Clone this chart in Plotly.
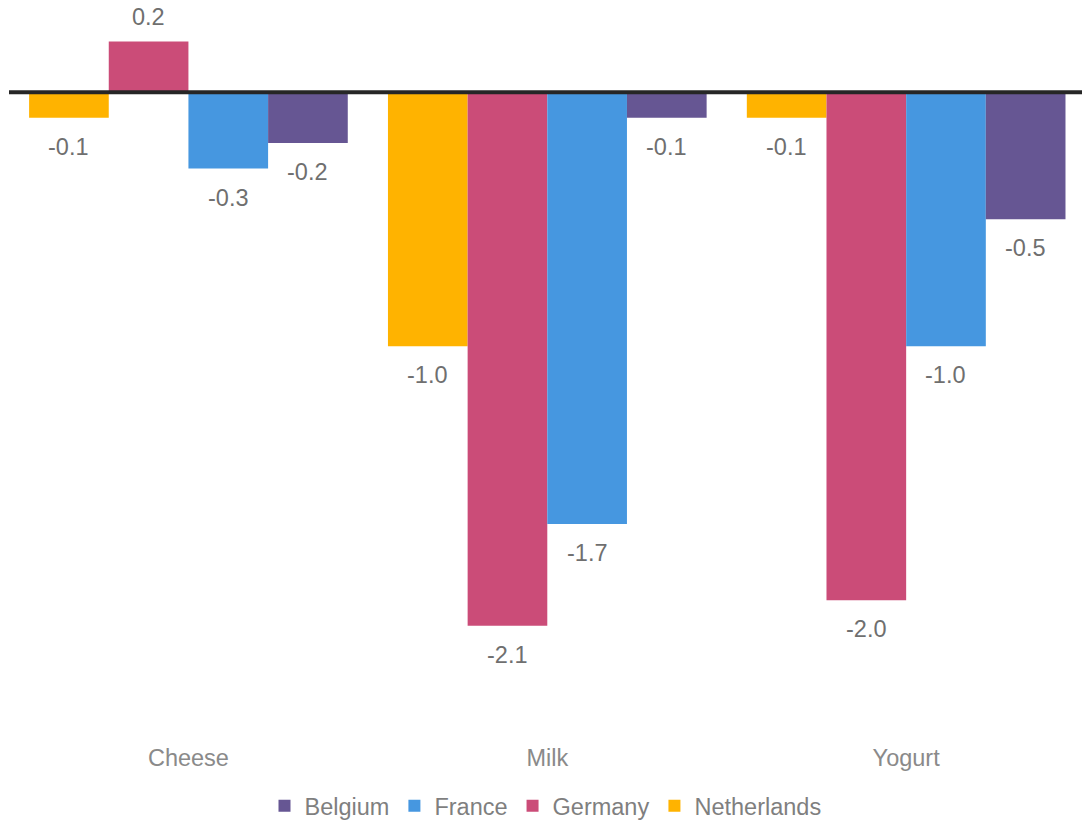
import plotly.graph_objects as go

# Dairy change by product and country
products = ["Cheese", "Milk", "Yogurt"]
countries = ["Netherlands", "Germany", "France", "Belgium"]
netherlands = [-0.1, -1.0, -0.1]
germany = [0.2, -2.1, -2.0]
france = [-0.3, -1.7, -1.0]
belgium = [-0.2, -0.1, -0.5]

series = [netherlands, germany, france, belgium]
colors = ["#FFB300", "#CB4C78", "#4697E0", "#665693"]

BARGAP = 0.112
LABEL_FONT = dict(family="Liberation Sans, Arial, sans-serif", size=23.5, color="#6f6f6f")

fig = go.Figure()
for name, vals, col in zip(countries, series, colors):
    fig.add_trace(go.Bar(
        name=name, x=products, y=vals,
        marker=dict(color=col, line=dict(width=0)),
    ))

# value labels placed just beyond the end of each bar
n = len(countries)
w = (1 - BARGAP) / n
annotations = []
for j, vals in enumerate(series):
    for i, v in enumerate(vals):
        annotations.append(dict(
            x=i + (j - (n - 1) / 2) * w, y=v, xref="x", yref="y",
            text=f"{v:.1f}", showarrow=False, font=LABEL_FONT,
            yanchor="middle", yshift=(25 if v >= 0 else -29),
        ))

fig.update_layout(
    width=1082, height=822,
    margin=dict(l=9, r=0, t=0, b=84),
    paper_bgcolor="white", plot_bgcolor="white",
    barmode="group", bargap=BARGAP, bargroupgap=0,
    font=dict(family="Liberation Sans, Arial, sans-serif", size=22, color="#7f7f7f"),
    xaxis=dict(
        type="category", range=[-0.5, 2.49], showgrid=False, showline=False,
        ticks="", tickfont=dict(size=23.5, color="#8a8a8a"), ticklabelstandoff=3,
        fixedrange=True,
    ),
    yaxis=dict(
        range=[-2.542, 0.3634], showgrid=False, zeroline=False,
        showline=False, showticklabels=False, ticks="",
    ),
    showlegend=True,
    legend=dict(
        orientation="h", traceorder="reversed",
        x=0.5, xanchor="center", y=0.0195, yanchor="middle",
        yref="container", font=dict(size=23.5, color="#7f7f7f"),
    ),
    annotations=annotations,
    shapes=[dict(
        type="line", xref="paper", yref="y", x0=0, x1=1, y0=0, y1=0,
        line=dict(color="#262626", width=4), layer="above",
    )],
)

fig.write_html("out.html")
